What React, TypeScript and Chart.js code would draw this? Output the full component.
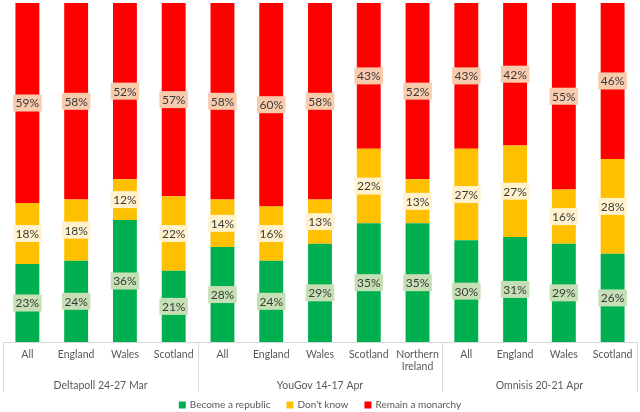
import React, { useEffect, useRef } from "react";
import { Chart, registerables } from "chart.js";

Chart.register(...registerables);

const categories: (string | string[])[] = [
  "All", "England", "Wales", "Scotland",
  "All", "England", "Wales", "Scotland", ["Northern", "Ireland"],
  "All", "England", "Wales", "Scotland",
];
const groups = ["Deltapoll 24-27 Mar", "YouGov 14-17 Apr", "Omnisis 20-21 Apr"];
const groupSizes = [4, 5, 4];
const seriesNames = ["Become a republic", "Don't know", "Remain a monarchy"];
const seriesColors = ["#00b050", "#ffc000", "#ff0000"];
const republic = [23, 24, 36, 21, 28, 24, 29, 35, 35, 30, 31, 29, 26];
const dontKnow = [18, 18, 12, 22, 14, 16, 13, 22, 13, 27, 27, 16, 28];
const monarchy = [59, 58, 52, 57, 58, 60, 58, 43, 52, 43, 42, 55, 46];

const FONT = "Lato, 'Open Sans', sans-serif";
const labelBgs = ["#c5e0b4", "#fff2cc", "#f8cbad"];

const dataLabelPlugin = {
  id: "dataLabels",
  afterDatasetsDraw(chart: any) {
    const ctx = chart.ctx;
    ctx.save();
    ctx.font = `12px ${FONT}`;
    ctx.textAlign = "center";
    ctx.textBaseline = "middle";
    chart.data.datasets.forEach((ds: any, di: number) => {
      const meta = chart.getDatasetMeta(di);
      meta.data.forEach((bar: any, i: number) => {
        const { x, y, base } = bar.getProps(["x", "y", "base"], true);
        const cy = (y + base) / 2;
        const text = ds.data[i] + "%";
        const w = ctx.measureText(text).width + 5;
        const h = 17;
        ctx.fillStyle = labelBgs[di];
        ctx.fillRect(x - w / 2, cy - h / 2, w, h);
        ctx.fillStyle = "#3a3a3a";
        ctx.fillText(text, x, cy + 0.5);
      });
    });
    ctx.restore();
  },
};

const groupPlugin = {
  id: "groups",
  afterDraw(chart: any) {
    const ctx = chart.ctx;
    const xs = chart.scales.x;
    const area = chart.chartArea;
    const bounds: number[] = [area.left];
    let idx = 0;
    groupSizes.forEach((n, gi) => {
      idx += n;
      if (gi < groupSizes.length - 1) {
        bounds.push((xs.getPixelForValue(idx - 1) + xs.getPixelForValue(idx)) / 2);
      }
    });
    bounds.push(area.right);
    ctx.save();
    ctx.strokeStyle = "#d9d9d9";
    ctx.lineWidth = 1;
    bounds.forEach((bx) => {
      const px = Math.round(bx) + 0.5;
      ctx.beginPath();
      ctx.moveTo(px, area.bottom);
      ctx.lineTo(px, area.bottom + 50);
      ctx.stroke();
    });
    ctx.font = `10.5px ${FONT}`;
    ctx.fillStyle = "#595959";
    ctx.textAlign = "center";
    ctx.textBaseline = "middle";
    groups.forEach((g, gi) => {
      ctx.fillText(g, (bounds[gi] + bounds[gi + 1]) / 2, area.bottom + 44);
    });

    // legend
    ctx.font = `10px ${FONT}`;
    ctx.textAlign = "left";
    const box = 7, gapBox = 4, gapItem = 16;
    const widths = seriesNames.map((n) => box + gapBox + ctx.measureText(n).width);
    const total = widths.reduce((a, b) => a + b, 0) + gapItem * (widths.length - 1);
    let lx = chart.width / 2 - total / 2;
    const ly = area.bottom + 63;
    seriesNames.forEach((n, i) => {
      ctx.fillStyle = seriesColors[i];
      ctx.fillRect(lx, ly - box / 2, box, box);
      ctx.fillStyle = "#595959";
      ctx.fillText(n, lx + box + gapBox, ly);
      lx += widths[i] + gapItem;
    });
    ctx.restore();
  },
};

export default function App() {
  const ref = useRef<HTMLCanvasElement>(null);
  useEffect(() => {
    document.body.style.margin = "0";
    const chart = new Chart(ref.current!, {
      type: "bar",
      data: {
        labels: categories as any,
        datasets: [
          { label: seriesNames[0], data: republic, backgroundColor: seriesColors[0] },
          { label: seriesNames[1], data: dontKnow, backgroundColor: seriesColors[1] },
          { label: seriesNames[2], data: monarchy, backgroundColor: seriesColors[2] },
        ],
      },
      options: {
        animation: false,
        responsive: false,
        maintainAspectRatio: false,
        layout: { padding: { left: 3, right: 3, top: 3, bottom: 14 } },
        datasets: { bar: { categoryPercentage: 1, barPercentage: 0.49 } },
        scales: {
          x: {
            stacked: true,
            grid: { display: false, drawTicks: false },
            border: { display: true, color: "#d9d9d9" },
            ticks: {
              font: { family: FONT, size: 10.5 },
              color: "#595959",
              padding: 6,
              maxRotation: 0,
              autoSkip: false,
            },
            afterFit(scale: any) {
              scale.height = 56;
            },
          },
          y: { stacked: true, display: false, min: 0, max: 100 },
        },
        plugins: {
          legend: { display: false },
          tooltip: { enabled: false },
        },
      },
      plugins: [dataLabelPlugin, groupPlugin],
    });
    return () => chart.destroy();
  }, []);
  return (
    <div style={{ width: 640, height: 412 }}>
      <canvas ref={ref} width={640} height={412} style={{ display: "block" }} />
    </div>
  );
}
